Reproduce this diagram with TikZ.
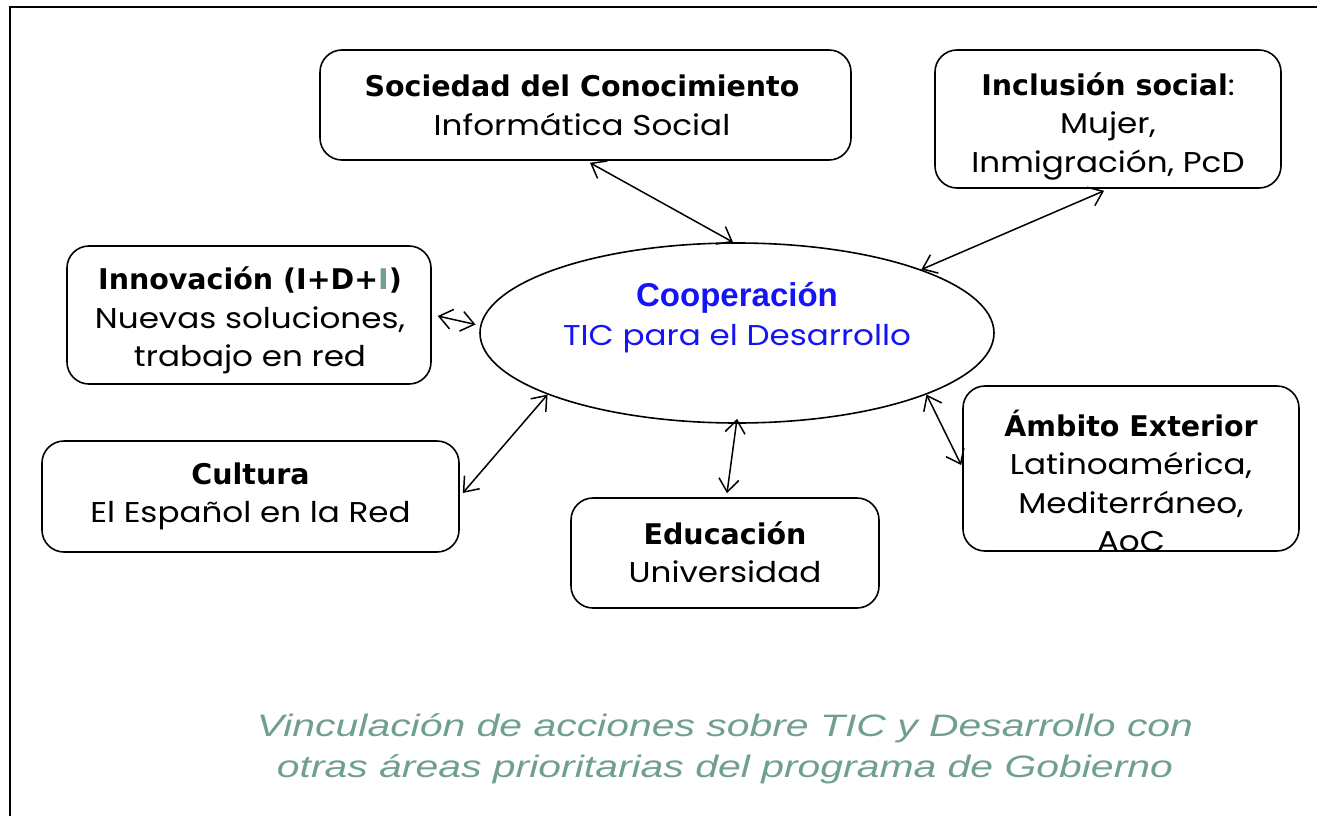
\documentclass[tikz,border=0pt]{standalone}
\usepackage{fontspec}
\usetikzlibrary{arrows.meta,shapes.geometric,calc}
\setmainfont{Poppins}[FakeStretch=1.14]
\newfontfamily\boldfam{DejaVu Sans}
\newfontfamily\arialfam{Liberation Sans}
\newfontfamily\capfam{Liberation Sans}[FakeStretch=1.32]
\definecolor{capgreen}{RGB}{112,160,140}
\definecolor{coopblue}{RGB}{20,20,245}
\newcommand{\bt}[1]{{\boldfam\bfseries\fontsize{28.5}{38.5}\selectfont #1}}
\tikzset{
  box/.style={draw, line width=1.6pt, rounded corners=22pt, inner sep=0pt},
  txt/.style={align=center, inner sep=0pt, font=\fontsize{28.6}{38.5}\selectfont},
  link/.style={line width=1.5pt, {Straight Barb[length=13pt,width=20pt]}-{Straight Barb[length=13pt,width=20pt]}},
}
\begin{document}
\begin{tikzpicture}[x=1pt,y=-1pt]
\useasboundingbox (0,0) rectangle (1317,816);
\draw[line width=2.2pt] (10,816) -- (10,7) -- (1317,7);
% boxes
\node[box, minimum width=531pt, minimum height=110pt] (soc) at (585.5,105) {};
\node[box, minimum width=346pt, minimum height=138pt] (inc) at (1108,119) {};
\node[box, minimum width=364pt, minimum height=138pt] (inn) at (249,315) {};
\node[box, minimum width=417pt, minimum height=111pt] (cul) at (250.5,496.5) {};
\node[box, minimum width=308pt, minimum height=110pt] (edu) at (725,553) {};
\node[box, minimum width=336pt, minimum height=165pt] (amb) at (1131,468.5) {};
\node[draw, ellipse, line width=1.6pt, minimum width=514pt, minimum height=180pt, inner sep=0pt] (ell) at (737,333) {};
% texts
\node[txt] (soct) at (582,105.5) {\bt{Sociedad del Conocimiento}\\Informática Social};
\node[txt] (inct) at (1108,126) {\bt{Inclusión social}:\\Mujer,\\Inmigración, PcD};
\node[txt] (innt) at (250,320.5) {\bt{Innovación (I+D+{\color{capgreen}I})}\\Nuevas soluciones,\\trabajo en red};
\node[txt] (cult) at (250.5,496.5) {\bt{Cultura}\\El Español en la Red};
\node[txt] (edut) at (725,552) {\bt{Educación}\\Universidad};
\node[txt] (ambt) at (1131,481) {\bt{Ámbito Exterior}\\Latinoamérica,\\Mediterráneo,\\AoC};
\node[txt, text=coopblue] (ellt) at (737,317.5) {{\arialfam\bfseries\fontsize{33}{38.5}\selectfont Cooperación}\\TIC para el Desarrollo};
\node[align=center, inner sep=0pt, text=capgreen, font={\capfam\itshape\fontsize{31}{41}\selectfont}] (cap) at (725,749) {Vinculación de acciones sobre TIC y Desarrollo con\\otras áreas prioritarias del programa de Gobierno};
% connectors
\draw[link] ($(soc.south)+(4.5,2)$) -- ($(ell.north)+(-4,0)$);
\draw[link] ($(inc.south)+(-4,2)$) -- (ell.19);
\draw[link] ($(inn.east)+(6,1)$) -- ($(ell.179)+(-4,-4)$);
\draw[link] (ell.198) -- ($(cul.east)+(3,-3.5)$);
\draw[link] ($(ell.south)+(0,-5)$) -- ($(edu.north)+(2,-4)$);
\draw[link] (ell.-18) -- ($(amb.west)+(-1,-3.5)$);
\end{tikzpicture}
\end{document}
